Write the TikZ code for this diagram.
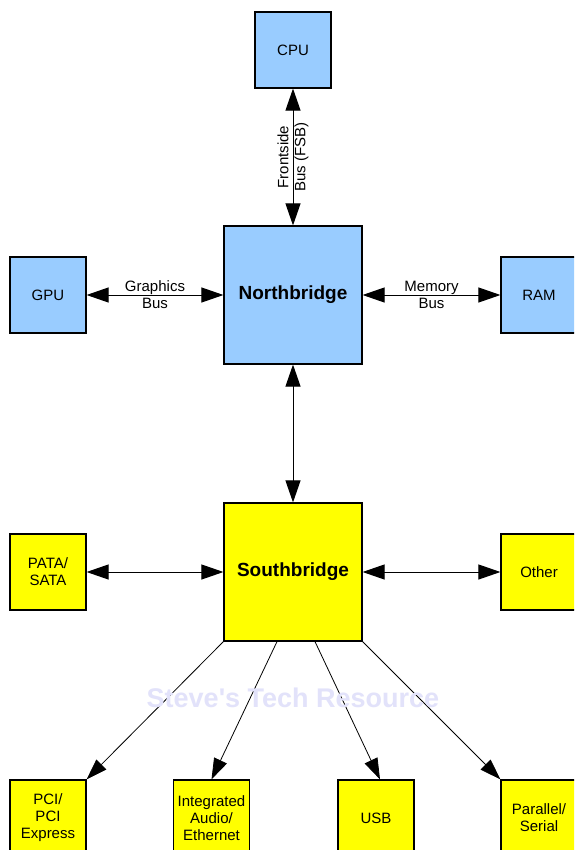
\documentclass[tikz,border=0pt]{standalone}
\usepackage{fontspec}
\setmainfont{Liberation Sans}
\usetikzlibrary{arrows.meta}
\definecolor{nbblue}{RGB}{153,204,255}
\definecolor{sbyellow}{RGB}{255,255,0}
\definecolor{wmark}{RGB}{226,226,250}
\begin{document}
\begin{tikzpicture}[x=1pt,y=-1pt,
  box/.style={draw=black,line width=1.2pt,minimum width=76pt,minimum height=76pt,inner sep=0pt,align=center,font=\fontsize{15}{17}\selectfont},
  bigbox/.style={box,minimum width=138pt,minimum height=138pt,font=\fontsize{19}{22}\selectfont\bfseries},
  nbfill/.style={fill=nbblue},
  sbfill/.style={fill=sbyellow},
  link/.style={line width=1pt,{Triangle[length=22pt,width=15pt]}-{Triangle[length=22pt,width=15pt]}},
  oneway/.style={line width=0.8pt,-{Triangle[length=21pt,width=14pt]}},
  lbl/.style={font=\fontsize{15}{17}\selectfont,align=center,inner sep=0pt}
]
\useasboundingbox (0,0) rectangle (574,850);
\clip (0,0) rectangle (574,850);
\fill[white] (0,0) rectangle (574,850);

% nodes
\node[box,nbfill] (cpu) at (293,50) {CPU};
\node[bigbox,nbfill] (nb) at (293,295) {Northbridge};
\node[box,nbfill] (gpu) at (48,295) {GPU};
\node[box,nbfill] (ram) at (539,295) {RAM};
\node[bigbox,sbfill] (sb) at (293,572) {Southbridge};
\node[box,sbfill] (pata) at (48,572) {PATA/\\SATA};
\node[box,sbfill] (other) at (539,572) {Other};
\node[box,sbfill] (pci) at (48,818) {PCI/\\PCI\\Express};
\node[box,sbfill] (audio) at (211.5,818) {Integrated\\Audio/\\Ethernet};
\node[box,sbfill] (usb) at (376,818) {USB};
\node[box,sbfill] (par) at (539,818) {Parallel/\\Serial};

% connectors
\draw[link] (cpu) -- (nb) node[midway,lbl,rotate=90] (fsb) {Frontside\\Bus (FSB)};
\draw[link] (gpu) -- (nb) node[midway,lbl] (gbus) {Graphics\\Bus};
\draw[link] (nb) -- (ram) node[midway,lbl] (mbus) {Memory\\Bus};
\draw[link] (nb) -- (sb);
\draw[link] (pata) -- (sb);
\draw[link] (sb) -- (other);

\coordinate (s2) at ([xshift=-16pt]sb.south);
\coordinate (s3) at ([xshift=22pt]sb.south);
\coordinate (u3) at ([xshift=4pt]usb.north);
\draw[oneway] (sb.south west) -- (pci.north east);
\draw[oneway] (s2) -- (audio.north);
\draw[oneway] (s3) -- (u3);
\draw[oneway] (sb.south east) -- (par.north west);

% watermark
\node[font=\fontsize{27}{30}\selectfont\bfseries,text=wmark,inner sep=0pt] (wm) at (293,698) {Steve\textquotesingle s Tech Resource};
\end{tikzpicture}
\end{document}
